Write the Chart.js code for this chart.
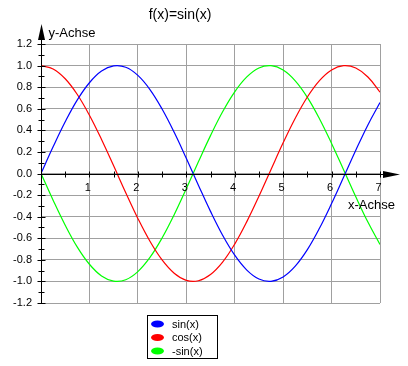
<!DOCTYPE html>
<html>
<head>
<meta charset="utf-8">
<script src="https://cdn.jsdelivr.net/npm/chart.js@4"></script>
<style>
  html, body { margin: 0; padding: 0; background: #fff; }
  #wrap { width: 408px; height: 366px; }
</style>
</head>
<body>
<div id="wrap"><canvas id="chart" width="408" height="366"></canvas></div>
<script>
const FONT = '"Liberation Sans", Arial, sans-serif';
const GRID = '#a0a0a0';

// x positions sampled along the curves
const xValues = [0, 0.25, 0.5, 0.75, 1, 1.25, 1.5, 1.75, 2, 2.25, 2.5, 2.75, 3, 3.25, 3.5,
                 3.75, 4, 4.25, 4.5, 4.75, 5, 5.25, 5.5, 5.75, 6, 6.25, 6.5, 6.75, 7];

// values
const sinValues = [0, 0.247, 0.479, 0.682, 0.841, 0.949, 0.997, 0.984, 0.909, 0.778, 0.598,
                   0.382, 0.141, -0.108, -0.351, -0.572, -0.757, -0.895, -0.978, -0.999, -0.959,
                   -0.859, -0.706, -0.508, -0.279, -0.033, 0.215, 0.450, 0.657];
const cosValues = [1, 0.969, 0.878, 0.732, 0.540, 0.315, 0.071, -0.178, -0.416, -0.628, -0.801,
                   -0.924, -0.990, -0.994, -0.936, -0.821, -0.654, -0.446, -0.211, 0.038, 0.284,
                   0.512, 0.709, 0.861, 0.960, 0.999, 0.977, 0.894, 0.754];
const negSinValues = [0, -0.247, -0.479, -0.682, -0.841, -0.949, -0.997, -0.984, -0.909, -0.778, -0.598,
                      -0.382, -0.141, 0.108, 0.351, 0.572, 0.757, 0.895, 0.978, 0.999, 0.959,
                      0.859, 0.706, 0.508, 0.279, 0.033, -0.215, -0.450, -0.657];

const seriesLabels = ['sin(x)', 'cos(x)', '-sin(x)'];
const seriesColors = ['#0000ff', '#ff0000', '#00ff00'];
const xTickLabels = ['1', '2', '3', '4', '5', '6', '7'];

const titleText = 'f(x)=sin(x)';
const yAxisTitle = 'y-Achse';
const xAxisTitle = 'x-Achse';

function toPoints(ys) {
  return xValues.map((x, i) => ({ x, y: ys[i] }));
}

function fmtTick(v) {
  if (Math.abs(v) < 1e-9) v = 0;
  return v.toFixed(1);
}

// black axes with arrows, small ticks, x labels on the zero line, titles and boxed legend
const axesPlugin = {
  id: 'axes',
  afterDatasetsDraw(chart) {
    const { ctx, chartArea, scales: { x, y } } = chart;
    const x0 = Math.round(x.getPixelForValue(0)) + 0.5;
    const y0 = Math.round(y.getPixelForValue(0)) + 0.5;
    ctx.save();
    ctx.strokeStyle = '#000';
    ctx.fillStyle = '#000';
    ctx.lineWidth = 1;

    // y axis line + arrow
    ctx.beginPath();
    ctx.moveTo(x0, chartArea.bottom);
    ctx.lineTo(x0, chartArea.top - 8);
    ctx.stroke();
    ctx.beginPath();
    ctx.moveTo(x0, chartArea.top - 20);
    ctx.lineTo(x0 - 3.5, chartArea.top - 4);
    ctx.lineTo(x0 + 3.5, chartArea.top - 4);
    ctx.closePath();
    ctx.fill();

    // x axis line + arrow
    const xEnd = chartArea.right + 20;
    ctx.beginPath();
    ctx.moveTo(x0, y0);
    ctx.lineTo(chartArea.right + 6, y0);
    ctx.stroke();
    ctx.beginPath();
    ctx.moveTo(xEnd, y0);
    ctx.lineTo(chartArea.right + 3, y0 - 3.5);
    ctx.lineTo(chartArea.right + 3, y0 + 3.5);
    ctx.closePath();
    ctx.fill();

    // y ticks (major every 0.2, minor every 0.1)
    for (let k = -12; k <= 12; k++) {
      const py = Math.round(y.getPixelForValue(k / 10)) + 0.5;
      const len = k % 2 === 0 ? 4 : 3;
      ctx.beginPath();
      ctx.moveTo(x0 - len, py);
      ctx.lineTo(x0 + len, py);
      ctx.stroke();
    }
    // x ticks every 0.5
    for (let k = 1; k <= 14; k++) {
      const px = Math.round(x.getPixelForValue(k / 2)) + 0.5;
      ctx.beginPath();
      ctx.moveTo(px, y0 - 3);
      ctx.lineTo(px, y0 + 3);
      ctx.stroke();
    }

    // x tick labels along the zero line
    ctx.font = '11px ' + FONT;
    ctx.textAlign = 'right';
    ctx.textBaseline = 'top';
    xTickLabels.forEach((lbl, i) => {
      const px = x.getPixelForValue(i + 1);
      ctx.fillText(lbl, px + 1.5, y0 + 8);
    });

    // axis titles
    ctx.font = '13px ' + FONT;
    ctx.textAlign = 'left';
    ctx.textBaseline = 'alphabetic';
    ctx.fillText(yAxisTitle, x0 + 7, chartArea.top - 7);
    ctx.fillText(xAxisTitle, chartArea.right - 32, y0 + 34);

    // title
    ctx.font = '14px ' + FONT;
    ctx.textAlign = 'center';
    ctx.fillText(titleText, 180, 19);

    // legend box
    const lx = 147.5, ly = 315.5, lw = 70, lh = 43;
    ctx.fillStyle = '#fff';
    ctx.fillRect(lx, ly, lw, lh);
    ctx.strokeStyle = '#000';
    ctx.strokeRect(lx, ly, lw, lh);
    ctx.font = '11px ' + FONT;
    ctx.textAlign = 'left';
    ctx.textBaseline = 'middle';
    chart.data.datasets.forEach((ds, i) => {
      const cy = ly + 8.5 + i * 13.5;
      ctx.fillStyle = ds.borderColor;
      ctx.beginPath();
      ctx.ellipse(lx + 10, cy, 6.5, 3.5, 0, 0, Math.PI * 2);
      ctx.fill();
      ctx.fillStyle = '#000';
      ctx.fillText(ds.label, lx + 24.5, cy + 0.5);
    });
    ctx.restore();
  }
};

new Chart(document.getElementById('chart'), {
  type: 'line',
  data: {
    datasets: [sinValues, cosValues, negSinValues].map((vals, i) => ({
      label: seriesLabels[i],
      data: toPoints(vals),
      borderColor: seriesColors[i],
      backgroundColor: seriesColors[i],
      borderWidth: 1.2,
      pointRadius: 0,
      tension: 0.4,
      fill: false,
    }))
  },
  options: {
    responsive: false,
    animation: false,
    events: [],
    layout: { padding: { top: 44, right: 28, left: 0, bottom: 0 } },
    plugins: {
      legend: { display: false },
      tooltip: { enabled: false },
      title: { display: false },
    },
    scales: {
      x: {
        type: 'linear',
        min: 0,
        max: 7,
        ticks: { display: false, stepSize: 1 },
        grid: { color: GRID, drawTicks: false },
        border: { display: false },
        afterFit: s => { s.height = 63; },
      },
      y: {
        min: -1.2,
        max: 1.2,
        ticks: {
          stepSize: 0.2,
          padding: 9,
          color: '#000',
          font: { family: FONT, size: 11 },
          callback: v => fmtTick(v),
        },
        grid: { color: GRID, drawTicks: false },
        border: { display: false },
        afterFit: s => { s.width = 41; },
      }
    }
  },
  plugins: [axesPlugin]
});
</script>
</body>
</html>
